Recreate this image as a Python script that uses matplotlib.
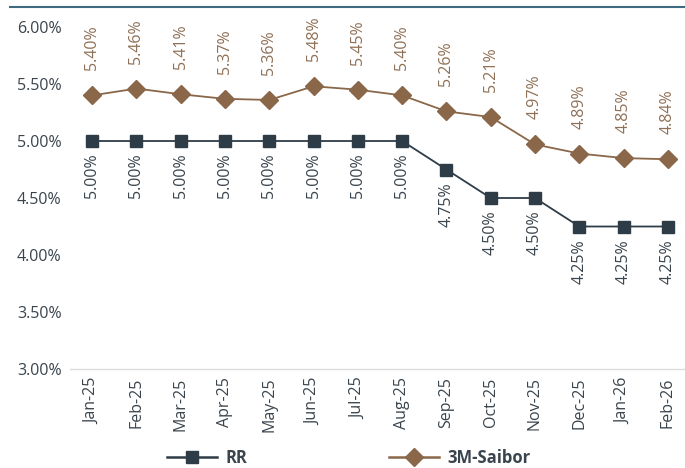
import matplotlib
matplotlib.use("Agg")
import matplotlib.pyplot as plt
from matplotlib.lines import Line2D

months = ["Jan-25", "Feb-25", "Mar-25", "Apr-25", "May-25", "Jun-25", "Jul-25",
          "Aug-25", "Sep-25", "Oct-25", "Nov-25", "Dec-25", "Jan-26", "Feb-26"]
rr = [5.00, 5.00, 5.00, 5.00, 5.00, 5.00, 5.00, 5.00, 4.75, 4.50, 4.50, 4.25, 4.25, 4.25]
saibor = [5.40, 5.46, 5.41, 5.37, 5.36, 5.48, 5.45, 5.40, 5.26, 5.21, 4.97, 4.89, 4.85, 4.84]
yticks = [3.0, 3.5, 4.0, 4.5, 5.0, 5.5, 6.0]

plt.rcParams['font.family'] = ['Open Sans', 'DejaVu Sans']

RR_C = "#2e3c47"
SB_C = "#8a6749"
SB_TXT = "#8f7056"
TXT = "#3a444d"
FS = 11.5

fig = plt.figure(figsize=(6.85, 4.68), dpi=100)
ax = fig.add_axes([70/685, 1 - 369/468, 620/685, (369-27)/468])

x = list(range(len(months)))
ax.plot(x, rr, color=RR_C, lw=1.3, marker='s', ms=8.5, zorder=3)
ax.plot(x, saibor, color=SB_C, lw=1.3, marker='D', ms=9.5, zorder=3)

for xi, v in zip(x, saibor):
    ax.annotate(f"{v:.2f}%", (xi, v), xytext=(0, 18), textcoords='offset points',
                rotation=90, ha='center', va='bottom', color=SB_TXT, fontsize=FS)
for xi, v in zip(x, rr):
    ax.annotate(f"{v:.2f}%", (xi, v), xytext=(0, -9), textcoords='offset points',
                rotation=90, ha='center', va='top', color=TXT, fontsize=FS)

ax.set_xlim(-0.5, len(months) - 0.5)
ax.set_ylim(3.0, 6.0)
ax.set_yticks(yticks)
ax.set_yticklabels([f"{t:.2f}%" for t in yticks], color=TXT, fontsize=FS)
ax.set_xticks(x)
ax.set_xticklabels(months, rotation=90, color=TXT, fontsize=FS)
ax.tick_params(length=0, pad=6)
for s in ['top', 'right', 'left']:
    ax.spines[s].set_visible(False)
ax.spines['bottom'].set_color("#dcdcdc")
ax.spines['bottom'].set_linewidth(1)

# top rule
fig.add_artist(Line2D([10/685, 1.0], [1 - 6.5/468, 1 - 6.5/468],
                      transform=fig.transFigure, color="#3f6b80", lw=1.5))

handles = [Line2D([], [], color=RR_C, lw=1.8, marker='s', ms=9),
           Line2D([], [], color=SB_C, lw=1.8, marker='D', ms=9)]
leg = fig.legend(handles, ["RR", "3M-Saibor"], loc='center', bbox_to_anchor=(349/685, 1 - 458/468),
                 ncol=2, frameon=False, handlelength=3.0, handletextpad=0.5, columnspacing=8.5,
                 prop={'weight': 'bold', 'size': 12})
for t in leg.get_texts():
    t.set_color(TXT)

fig.savefig("out.png", dpi=100)
